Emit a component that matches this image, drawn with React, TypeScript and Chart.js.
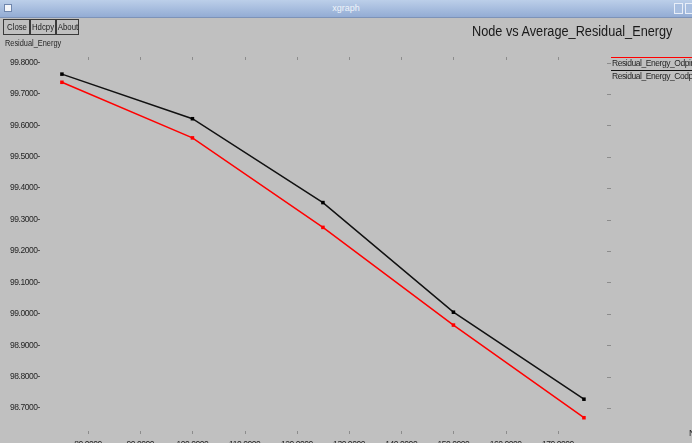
import React, { useEffect, useRef } from "react";
import { Chart, registerables } from "chart.js";

Chart.register(...registerables);

// ---- data ----
const nodes = [75, 100, 125, 150, 175];
const odpinlEnergy = [99.737, 99.56, 99.275, 98.964, 98.669];
const codpirEnergy = [99.763, 99.621, 99.354, 99.005, 98.728];
const seriesNames = ["Residual_Energy_Odpinl", "Residual_Energy_Codpir"];
const xTickValues = [80, 90, 100, 110, 120, 130, 140, 150, 160, 170];
const yTickValues = [98.7, 98.8, 98.9, 99.0, 99.1, 99.2, 99.3, 99.4, 99.5, 99.6, 99.7, 99.8];
const chartTitle = "Node vs Average_Residual_Energy";
const yAxisName = "Residual_Energy";
const xAxisName = "Node";
const windowTitle = "xgraph";
const buttonLabels = ["Close", "Hdcpy", "About"];

const FONT = "'Liberation Sans', Arial, sans-serif";
const CANVAS_SPACING = "-0.45px";

const xgraphMarks = {
  id: "xgraphMarks",
  beforeDraw(chart: any) {
    (chart.ctx as any).letterSpacing = CANVAS_SPACING;
  },
  afterDraw(chart: any) {
    const { ctx, chartArea, scales } = chart;
    ctx.save();
    ctx.strokeStyle = "#8c8c8c";
    ctx.lineWidth = 1;
    ctx.beginPath();
    xTickValues.forEach((v) => {
      const x = Math.round(scales.x.getPixelForValue(v)) + 0.5;
      ctx.moveTo(x, chartArea.top + 1);
      ctx.lineTo(x, chartArea.top + 4);
      ctx.moveTo(x, chartArea.bottom - 4);
      ctx.lineTo(x, chartArea.bottom - 1);
    });
    yTickValues.forEach((v) => {
      const y = Math.round(scales.y.getPixelForValue(v)) + 0.5;
      ctx.moveTo(chartArea.right - 2, y);
      ctx.lineTo(chartArea.right + 2, y);
    });
    ctx.stroke();
    // legend (xgraph style: line above the name)
    chart.data.datasets.forEach((ds: any, i: number) => {
      const y0 = Math.round(chartArea.top + 1 + i * 13) + 0.5;
      ctx.strokeStyle = ds.borderColor;
      ctx.beginPath();
      ctx.moveTo(chartArea.right + 2, y0);
      ctx.lineTo(chart.width, y0);
      ctx.stroke();
      ctx.fillStyle = "#262626";
      ctx.font = "8.5px " + FONT;
      (ctx as any).letterSpacing = CANVAS_SPACING;
      ctx.textBaseline = "top";
      ctx.textAlign = "left";
      ctx.fillText(ds.label, chartArea.right + 3, y0 + 1.5);
    });
    ctx.restore();
  },
};

function ChartCanvas() {
  const ref = useRef<HTMLCanvasElement | null>(null);
  useEffect(() => {
    if (!ref.current) return;
    const chart = new Chart(ref.current, {
      type: "line",
      data: {
        datasets: [
          {
            label: seriesNames[0],
            data: nodes.map((x, i) => ({ x, y: odpinlEnergy[i] })),
            borderColor: "#ff0000",
            backgroundColor: "#ff0000",
            borderWidth: 1.5,
            pointStyle: "rect",
            pointRadius: 2.5,
            pointBorderWidth: 0,
            tension: 0,
          },
          {
            label: seriesNames[1],
            data: nodes.map((x, i) => ({ x, y: codpirEnergy[i] })),
            borderColor: "#111111",
            backgroundColor: "#000000",
            borderWidth: 1.5,
            pointStyle: "rect",
            pointRadius: 2.5,
            pointBorderWidth: 0,
            tension: 0,
          },
        ],
      },
      options: {
        animation: false,
        responsive: true,
        maintainAspectRatio: false,
        layout: { padding: { left: 0, top: 56, right: 83, bottom: 0 } },
        plugins: { legend: { display: false }, title: { display: false }, tooltip: { enabled: false } },
        scales: {
          x: {
            type: "linear",
            min: 70.8,
            max: 179.8,
            afterBuildTicks: (s: any) => {
              s.ticks = xTickValues.map((v) => ({ value: v }));
            },
            afterFit: (s: any) => {
              s.height = 8;
            },
            grid: { display: false, drawTicks: false },
            border: { display: false },
            ticks: {
              padding: 5,
              color: "#262626",
              font: { size: 8.5, family: FONT },
              maxRotation: 0,
              autoSkip: false,
              callback: (v: any) => Number(v).toFixed(4),
            },
          },
          y: {
            type: "linear",
            min: 98.614,
            max: 99.8207,
            afterBuildTicks: (s: any) => {
              s.ticks = yTickValues.map((v) => ({ value: v }));
            },
            afterFit: (s: any) => {
              s.width = 40;
            },
            grid: { display: false, drawTicks: false },
            border: { display: false },
            ticks: {
              padding: 0,
              color: "#262626",
              font: { size: 8.5, family: FONT },
              autoSkip: false,
              callback: (v: any) => Number(v).toFixed(4) + "-",
            },
          },
        },
      },
      plugins: [xgraphMarks],
    });
    return () => chart.destroy();
  }, []);
  return <canvas ref={ref} />;
}

const narrow = (origin: string): React.CSSProperties => ({
  display: "inline-block",
  transform: "scaleX(0.82)",
  transformOrigin: origin,
  whiteSpace: "nowrap",
});

export default function App() {
  useEffect(() => {
    document.body.style.margin = "0";
  }, []);
  const btnLeft = [3, 30, 56];
  const btnWidth = [27, 26, 23];
  return (
    <div
      style={{
        position: "fixed",
        left: 0,
        top: 0,
        width: 692,
        height: 443,
        background: "#c0c0c0",
        overflow: "hidden",
        fontFamily: FONT,
      }}
    >
      <div style={{ position: "absolute", left: 0, top: 0, width: 692, height: 443 }}>
        <ChartCanvas />
      </div>
      {/* window title bar */}
      <div
        style={{
          position: "absolute",
          left: 0,
          top: 0,
          width: 692,
          height: 17,
          background: "linear-gradient(#bccfe9, #93acd4)",
          borderBottom: "1px solid #7d93b8",
        }}
      >
        <div style={{ position: "absolute", left: 4, top: 4, width: 8, height: 8, background: "#f4f6fa", border: "1px solid #6f86ad", boxSizing: "border-box" }} />
        <div style={{ position: "absolute", left: 0, width: 692, top: 3, textAlign: "center", color: "#f0f4fa", fontSize: 9, lineHeight: "11px" }}>
          {windowTitle}
        </div>
        <div style={{ position: "absolute", left: 674, top: 3, width: 9, height: 11, border: "1px solid #e8eef8", boxSizing: "border-box", background: "#a9bfe0" }} />
        <div style={{ position: "absolute", left: 685, top: 3, width: 9, height: 11, border: "1px solid #e8eef8", boxSizing: "border-box", background: "#a9bfe0" }} />
      </div>
      {buttonLabels.map((b, i) => (
        <div
          key={b}
          style={{
            position: "absolute",
            left: btnLeft[i],
            top: 19,
            width: btnWidth[i],
            height: 16,
            border: "1px solid #3a3a3a",
            boxSizing: "border-box",
            fontSize: 9.5,
            lineHeight: "14px",
            color: "#222",
          }}
        >
          <span
            style={{
              position: "absolute",
              left: "50%",
              top: 0,
              whiteSpace: "nowrap",
              transform: "translateX(-50%) scaleX(0.82)",
            }}
          >
            {b}
          </span>
        </div>
      ))}
      <div style={{ position: "absolute", left: 5, top: 38, fontSize: 9, lineHeight: "11px", color: "#262626" }}>
        <span style={narrow("left")}>{yAxisName}</span>
      </div>
      <div style={{ position: "absolute", right: 20, top: 21, fontSize: 15.5, lineHeight: "19px", color: "#1a1a1a" }}>
        <span style={narrow("right")}>{chartTitle}</span>
      </div>
      <div style={{ position: "absolute", left: 689, top: 428, fontSize: 9, lineHeight: "11px", color: "#262626" }}>{xAxisName}</div>
    </div>
  );
}
